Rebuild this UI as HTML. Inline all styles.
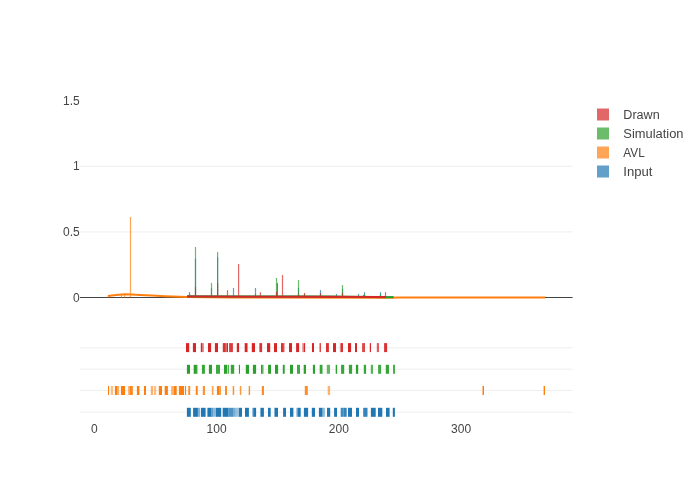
<!DOCTYPE html>
<html><head><meta charset="utf-8"><style>
html,body{margin:0;padding:0;background:#fff;width:700px;height:500px;overflow:hidden;}
svg{display:block;font-family:"Liberation Sans", sans-serif;}
#w{will-change:transform;width:700px;height:500px;}
</style></head><body>
<div id="w"><svg width="700" height="500" viewBox="0 0 700 500">
<rect width="700" height="500" fill="#fff"/>
<g stroke="#eee" stroke-width="1" fill="none">
<path d="M80,166.3H572.6"/>
<path d="M80,231.9H572.6"/>
<path d="M80,347.8H572.6"/>
<path d="M80,369.2H572.6"/>
<path d="M80,390.4H572.6"/>
<path d="M80,412.2H572.6"/>
</g>
<path d="M80,297.5H572.6" stroke="#444" stroke-width="1"/>
<g fill="rgb(31,119,180)" opacity="0.7"><rect x="188.90" y="292.10" width="1.2" height="5.40"/><rect x="194.90" y="258.80" width="1.2" height="38.70"/><rect x="210.90" y="287.90" width="1.2" height="9.60"/><rect x="217.00" y="257.10" width="1.2" height="40.40"/><rect x="232.90" y="288.00" width="1.2" height="9.50"/><rect x="254.90" y="288.00" width="1.2" height="9.50"/><rect x="276.80" y="283.50" width="1.2" height="14.00"/><rect x="297.90" y="288.00" width="1.2" height="9.50"/><rect x="319.90" y="290.00" width="1.2" height="7.50"/><rect x="335.90" y="294.00" width="1.2" height="3.50"/><rect x="341.90" y="288.90" width="1.2" height="8.60"/><rect x="357.90" y="294.00" width="1.2" height="3.50"/><rect x="363.90" y="292.10" width="1.2" height="5.40"/><rect x="379.90" y="292.10" width="1.2" height="5.40"/></g>
<g fill="rgb(255,127,14)" opacity="0.7"><rect x="107.60" y="295.50" width="1.2" height="2.00"/><rect x="120.80" y="294.30" width="1.2" height="3.20"/><rect x="123.90" y="293.80" width="1.2" height="3.70"/><rect x="129.90" y="217.00" width="1.2" height="80.50"/></g>
<g fill="rgb(44,160,44)" opacity="0.7"><rect x="188.90" y="293.90" width="1.2" height="3.60"/><rect x="194.90" y="247.00" width="1.2" height="50.50"/><rect x="210.90" y="282.90" width="1.2" height="14.60"/><rect x="217.00" y="251.90" width="1.2" height="45.60"/><rect x="254.90" y="294.00" width="1.2" height="3.50"/><rect x="275.90" y="278.00" width="1.2" height="19.50"/><rect x="276.80" y="282.90" width="1.2" height="14.60"/><rect x="297.90" y="280.10" width="1.2" height="17.40"/><rect x="303.90" y="294.00" width="1.2" height="3.50"/><rect x="341.90" y="285.00" width="1.2" height="12.50"/><rect x="363.90" y="293.90" width="1.2" height="3.60"/><rect x="379.90" y="294.00" width="1.2" height="3.50"/></g>
<g fill="rgb(214,39,40)" opacity="0.7"><rect x="194.90" y="287.00" width="1.2" height="10.50"/><rect x="217.00" y="283.10" width="1.2" height="14.40"/><rect x="226.90" y="290.10" width="1.2" height="7.40"/><rect x="238.00" y="264.00" width="1.2" height="33.50"/><rect x="259.80" y="292.20" width="1.2" height="5.30"/><rect x="275.90" y="291.90" width="1.2" height="5.60"/><rect x="281.90" y="275.10" width="1.2" height="22.40"/><rect x="297.90" y="294.50" width="1.2" height="3.00"/><rect x="303.90" y="292.90" width="1.2" height="4.60"/><rect x="319.90" y="293.10" width="1.2" height="4.40"/><rect x="341.90" y="293.10" width="1.2" height="4.40"/><rect x="362.90" y="295.00" width="1.2" height="2.50"/><rect x="384.90" y="292.10" width="1.2" height="5.40"/></g>
<g fill="none" stroke-width="2">
<path d="M187,296.4 L300,296.8 L393.5,297.3" stroke="rgb(31,119,180)"/>
<path d="M108,295.9 L116,295.1 L125,294.3 L131,294.6 L140,295.1 L152,295.6 L165,296.2 L187,296.9 L230,297.6 L386,297.7 L400,297.5 L545,297.4" stroke="rgb(255,127,14)"/>
<path d="M187,296.45 L250,296.45 L330,296.6 L393.6,297.2" stroke="rgb(44,160,44)"/>
<path d="M187,296.6 L300,296.7 L386,297.0" stroke="rgb(214,39,40)"/>
</g>
<g fill="rgb(31,119,180)"><rect x="186.90" y="407.80" width="3.90" height="9"/><rect x="193.10" y="407.80" width="4.80" height="9"/><rect x="197.90" y="407.80" width="2.10" height="9" opacity="0.55"/><rect x="200.90" y="407.80" width="4.70" height="9"/><rect x="206.90" y="407.80" width="1.10" height="9" opacity="0.6"/><rect x="208.00" y="407.80" width="3.50" height="9"/><rect x="211.50" y="407.80" width="1.80" height="9" opacity="0.7"/><rect x="213.30" y="407.80" width="2.70" height="9" opacity="0.5"/><rect x="216.00" y="407.80" width="5.20" height="9"/><rect x="222.70" y="407.80" width="5.60" height="9"/><rect x="228.30" y="407.80" width="4.70" height="9" opacity="0.8"/><rect x="233.00" y="407.80" width="2.60" height="9" opacity="0.6"/><rect x="235.60" y="407.80" width="3.40" height="9" opacity="0.45"/><rect x="239.00" y="407.80" width="3.00" height="9"/><rect x="245.00" y="407.80" width="3.90" height="9"/><rect x="252.30" y="407.80" width="0.90" height="9" opacity="0.6"/><rect x="253.20" y="407.80" width="2.90" height="9"/><rect x="260.00" y="407.80" width="0.90" height="9" opacity="0.6"/><rect x="260.90" y="407.80" width="3.00" height="9"/><rect x="268.00" y="407.80" width="2.70" height="9"/><rect x="274.10" y="407.80" width="0.90" height="9" opacity="0.6"/><rect x="275.00" y="407.80" width="3.00" height="9"/><rect x="283.10" y="407.80" width="2.90" height="9"/><rect x="290.00" y="407.80" width="3.40" height="9"/><rect x="296.40" y="407.80" width="1.10" height="9" opacity="0.6"/><rect x="297.50" y="407.80" width="3.20" height="9"/><rect x="303.90" y="407.80" width="4.20" height="9"/><rect x="311.80" y="407.80" width="3.20" height="9"/><rect x="318.90" y="407.80" width="3.60" height="9"/><rect x="322.50" y="407.80" width="2.40" height="9" opacity="0.5"/><rect x="327.00" y="407.80" width="3.20" height="9"/><rect x="334.10" y="407.80" width="2.90" height="9"/><rect x="340.70" y="407.80" width="3.00" height="9" opacity="0.85"/><rect x="343.70" y="407.80" width="3.00" height="9" opacity="0.9"/><rect x="348.00" y="407.80" width="4.00" height="9"/><rect x="356.00" y="407.80" width="3.00" height="9"/><rect x="363.20" y="407.80" width="4.30" height="9" opacity="0.9"/><rect x="370.90" y="407.80" width="4.80" height="9"/><rect x="378.00" y="407.80" width="4.30" height="9"/><rect x="386.00" y="407.80" width="3.60" height="9"/><rect x="392.80" y="407.80" width="2.10" height="9"/></g>
<g fill="rgb(255,127,14)"><rect x="108.00" y="386.00" width="1.10" height="9"/><rect x="110.80" y="386.00" width="2.30" height="9" opacity="0.5"/><rect x="114.90" y="386.00" width="2.50" height="9"/><rect x="117.40" y="386.00" width="1.70" height="9" opacity="0.6"/><rect x="120.90" y="386.00" width="4.20" height="9"/><rect x="128.10" y="386.00" width="1.30" height="9" opacity="0.6"/><rect x="129.40" y="386.00" width="3.40" height="9" opacity="0.95"/><rect x="136.90" y="386.00" width="2.10" height="9"/><rect x="139.00" y="386.00" width="0.70" height="9" opacity="0.6"/><rect x="144.00" y="386.00" width="2.00" height="9"/><rect x="150.80" y="386.00" width="2.20" height="9" opacity="0.6"/><rect x="153.80" y="386.00" width="2.40" height="9" opacity="0.5"/><rect x="158.80" y="386.00" width="3.20" height="9"/><rect x="164.70" y="386.00" width="3.20" height="9"/><rect x="171.10" y="386.00" width="2.60" height="9" opacity="0.6"/><rect x="173.70" y="386.00" width="3.00" height="9"/><rect x="178.90" y="386.00" width="5.10" height="9"/><rect x="184.90" y="386.00" width="1.20" height="9"/><rect x="188.30" y="386.00" width="1.90" height="9" opacity="0.9"/><rect x="195.80" y="386.00" width="1.90" height="9"/><rect x="202.80" y="386.00" width="2.20" height="9" opacity="0.85"/><rect x="211.80" y="386.00" width="1.70" height="9" opacity="0.7"/><rect x="216.90" y="386.00" width="2.40" height="9"/><rect x="219.30" y="386.00" width="1.70" height="9" opacity="0.75"/><rect x="225.00" y="386.00" width="2.00" height="9" opacity="0.9"/><rect x="232.70" y="386.00" width="1.50" height="9" opacity="0.85"/><rect x="239.80" y="386.00" width="1.50" height="9" opacity="0.8"/><rect x="248.70" y="386.00" width="1.40" height="9" opacity="0.9"/><rect x="261.80" y="386.00" width="2.20" height="9" opacity="0.9"/><rect x="304.80" y="386.00" width="3.00" height="9" opacity="0.9"/><rect x="327.70" y="386.00" width="2.40" height="9" opacity="0.6"/><rect x="482.50" y="386.00" width="1.50" height="9"/><rect x="543.60" y="386.00" width="1.40" height="9"/></g>
<g fill="rgb(44,160,44)"><rect x="186.90" y="364.80" width="3.10" height="9"/><rect x="193.70" y="364.80" width="3.20" height="9"/><rect x="196.90" y="364.80" width="0.80" height="9" opacity="0.6"/><rect x="201.90" y="364.80" width="3.00" height="9" opacity="0.95"/><rect x="208.90" y="364.80" width="3.10" height="9"/><rect x="216.00" y="364.80" width="4.00" height="9" opacity="0.9"/><rect x="224.00" y="364.80" width="3.10" height="9"/><rect x="227.70" y="364.80" width="1.10" height="9"/><rect x="230.80" y="364.80" width="3.40" height="9" opacity="0.95"/><rect x="238.90" y="364.80" width="1.10" height="9"/><rect x="245.80" y="364.80" width="3.20" height="9"/><rect x="252.90" y="364.80" width="3.20" height="9"/><rect x="261.00" y="364.80" width="1.70" height="9"/><rect x="262.70" y="364.80" width="1.10" height="9" opacity="0.5"/><rect x="268.10" y="364.80" width="2.90" height="9"/><rect x="275.00" y="364.80" width="3.10" height="9"/><rect x="282.80" y="364.80" width="1.90" height="9"/><rect x="290.00" y="364.80" width="3.00" height="9"/><rect x="297.00" y="364.80" width="3.00" height="9" opacity="0.9"/><rect x="303.70" y="364.80" width="2.30" height="9"/><rect x="312.90" y="364.80" width="2.10" height="9"/><rect x="319.70" y="364.80" width="2.80" height="9" opacity="0.95"/><rect x="326.80" y="364.80" width="3.20" height="9" opacity="0.75"/><rect x="335.70" y="364.80" width="1.40" height="9"/><rect x="341.10" y="364.80" width="3.10" height="9" opacity="0.95"/><rect x="348.90" y="364.80" width="3.20" height="9" opacity="0.95"/><rect x="355.90" y="364.80" width="2.30" height="9"/><rect x="363.80" y="364.80" width="2.30" height="9" opacity="0.95"/><rect x="370.80" y="364.80" width="2.20" height="9" opacity="0.8"/><rect x="378.10" y="364.80" width="3.00" height="9" opacity="0.9"/><rect x="385.80" y="364.80" width="3.20" height="9" opacity="0.95"/><rect x="393.00" y="364.80" width="2.00" height="9" opacity="0.85"/></g>
<g fill="rgb(214,39,40)"><rect x="186.00" y="343.10" width="3.20" height="9"/><rect x="192.90" y="343.10" width="3.10" height="9"/><rect x="200.80" y="343.10" width="1.70" height="9"/><rect x="202.50" y="343.10" width="1.50" height="9" opacity="0.5"/><rect x="208.00" y="343.10" width="3.10" height="9"/><rect x="214.90" y="343.10" width="3.10" height="9"/><rect x="222.80" y="343.10" width="3.00" height="9" opacity="0.95"/><rect x="225.80" y="343.10" width="1.10" height="9" opacity="0.7"/><rect x="226.90" y="343.10" width="1.10" height="9"/><rect x="229.10" y="343.10" width="3.80" height="9" opacity="0.9"/><rect x="236.80" y="343.10" width="2.30" height="9"/><rect x="244.70" y="343.10" width="2.50" height="9"/><rect x="247.20" y="343.10" width="0.70" height="9" opacity="0.6"/><rect x="251.80" y="343.10" width="3.20" height="9"/><rect x="259.00" y="343.10" width="0.80" height="9" opacity="0.6"/><rect x="259.80" y="343.10" width="2.30" height="9" opacity="0.95"/><rect x="267.00" y="343.10" width="3.20" height="9"/><rect x="274.00" y="343.10" width="3.00" height="9"/><rect x="281.00" y="343.10" width="2.80" height="9" opacity="0.95"/><rect x="283.80" y="343.10" width="0.80" height="9" opacity="0.6"/><rect x="289.00" y="343.10" width="3.00" height="9"/><rect x="296.10" y="343.10" width="3.00" height="9"/><rect x="302.30" y="343.10" width="1.40" height="9" opacity="0.55"/><rect x="303.70" y="343.10" width="1.40" height="9"/><rect x="312.00" y="343.10" width="2.00" height="9"/><rect x="319.50" y="343.10" width="1.50" height="9" opacity="0.85"/><rect x="326.00" y="343.10" width="2.90" height="9" opacity="0.95"/><rect x="333.00" y="343.10" width="3.00" height="9"/><rect x="339.80" y="343.10" width="1.20" height="9" opacity="0.55"/><rect x="341.00" y="343.10" width="2.00" height="9" opacity="0.95"/><rect x="348.00" y="343.10" width="3.10" height="9"/><rect x="355.00" y="343.10" width="2.00" height="9"/><rect x="362.10" y="343.10" width="2.90" height="9" opacity="0.85"/><rect x="369.80" y="343.10" width="1.20" height="9"/><rect x="376.80" y="343.10" width="2.20" height="9" opacity="0.75"/><rect x="384.10" y="343.10" width="3.00" height="9" opacity="0.95"/></g>
<g font-family="Liberation Sans, sans-serif" font-size="12" fill="#444">
<text x="79.8" y="105.0" text-anchor="end">1.5</text>
<text x="79.8" y="170.3" text-anchor="end">1</text>
<text x="79.8" y="236.0" text-anchor="end">0.5</text>
<text x="79.8" y="301.6" text-anchor="end">0</text>
<text x="94.30" y="432.8" text-anchor="middle">0</text>
<text x="216.55" y="432.8" text-anchor="middle">100</text>
<text x="338.80" y="432.8" text-anchor="middle">200</text>
<text x="461.05" y="432.8" text-anchor="middle">300</text>
<rect x="597" y="108.5" width="12" height="12" fill="rgb(214,39,40)" opacity="0.7"/>
<text x="623.3" y="119.3" textLength="36.4" lengthAdjust="spacingAndGlyphs">Drawn</text>
<rect x="597" y="127.5" width="12" height="12" fill="rgb(44,160,44)" opacity="0.7"/>
<text x="623.3" y="138.3" textLength="60.2" lengthAdjust="spacingAndGlyphs">Simulation</text>
<rect x="597" y="146.5" width="12" height="12" fill="rgb(255,127,14)" opacity="0.7"/>
<text x="623.3" y="157.3" textLength="21.4" lengthAdjust="spacingAndGlyphs">AVL</text>
<rect x="597" y="165.5" width="12" height="12" fill="rgb(31,119,180)" opacity="0.7"/>
<text x="623.3" y="176.3" textLength="29.2" lengthAdjust="spacingAndGlyphs">Input</text>
</g>
</svg>
</div></body></html>
